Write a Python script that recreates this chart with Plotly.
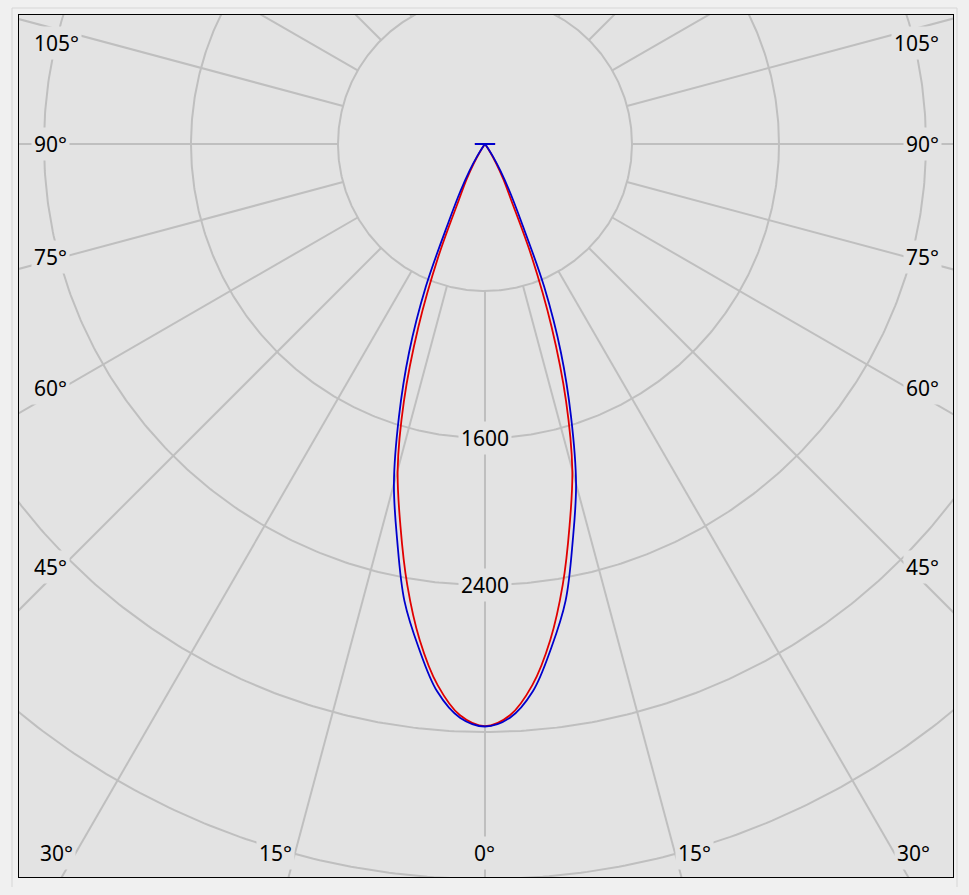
import numpy as np
import plotly.graph_objects as go

# ---- data (luminous intensity, cd) ----
gamma_deg = [0, 2.5, 5, 7.5, 10, 12.5, 15, 17.5, 20, 22.5, 25, 27.5, 30, 32.5, 35, 40, 45, 90, 95]
intensity_c0_c180 = [3168, 3112, 2956, 2722, 2436, 2127, 1836, 1467, 1060, 663, 339, 216, 120, 50, 12, 2, 0, 55, 0]
intensity_c90_c270 = [3170, 3125, 2990, 2765, 2525, 2208, 1915, 1558, 1209, 843, 470, 290, 170, 80, 25, 5, 0, 55, 0]

ring_values = [800, 1600, 2400, 3200, 4000]
ring_labels = ["1600", "2400"]
spoke_angles = list(range(0, 181, 15))
side_label_angles = [45, 60, 75, 90, 105]
bottom_label_angles = [-30, -15, 0, 15, 30]

# ---- geometry ----
CD_PER_PX = 800 / 147.0
X_LO, X_HI = -2536, 2547
Y_LO, Y_HI = -3989, 702
PLOT_BG = "#e3e3e3"
GRID = "#bfbfbf"


def curve_xy(g, vals):
    g = np.radians(np.asarray(g, dtype=float))
    v = np.asarray(vals, dtype=float)
    # left half (C180 / C270) from large gamma down to 0, then right half (C0 / C90)
    xl = -v[::-1] * np.sin(g[::-1])
    yl = -v[::-1] * np.cos(g[::-1])
    xr = v[1:] * np.sin(g[1:])
    yr = -v[1:] * np.cos(g[1:])
    return np.concatenate([xl, xr]), np.concatenate([yl, yr])


# grid rings and spokes
gx, gy = [], []
t = np.linspace(0, 2 * np.pi, 721)
for R in ring_values:
    gx += list(R * np.cos(t)) + [None]
    gy += list(R * np.sin(t)) + [None]
for a in spoke_angles:
    ar = np.radians(a)
    for s in ([1] if a in (0, 180) else [1, -1]):
        gx += [s * 800 * np.sin(ar), s * 8000 * np.sin(ar), None]
        gy += [-800 * np.cos(ar), -8000 * np.cos(ar), None]

fig = go.Figure()
fig.add_trace(go.Scatter(x=gx, y=gy, mode="lines", line=dict(color=GRID, width=2),
                         hoverinfo="skip", showlegend=False))

xr_, yr_ = curve_xy(gamma_deg, intensity_c0_c180)
fig.add_trace(go.Scatter(x=xr_, y=yr_, mode="lines",
                         line=dict(color="rgb(225,0,0)", width=1.8, shape="spline", smoothing=1.0),
                         name="C0-C180", showlegend=False))
xb_, yb_ = curve_xy(gamma_deg, intensity_c90_c270)
fig.add_trace(go.Scatter(x=xb_, y=yb_, mode="lines",
                         line=dict(color="rgb(0,0,205)", width=1.8, shape="spline", smoothing=1.0),
                         name="C90-C270", showlegend=False))

font = dict(family="Noto Sans", size=21, color="black")
ann = []
for lab in ring_labels:
    ann.append(dict(x=0, y=-float(lab), text=lab, showarrow=False, font=font,
                    bgcolor=PLOT_BG, borderpad=2, xanchor="center", yanchor="middle"))

d = 423 * CD_PER_PX
for a in side_label_angles:
    y = -d / np.tan(np.radians(a)) if a != 90 else 0.0
    y = min(y, Y_HI - 28 * CD_PER_PX)
    ann.append(dict(x=X_LO + 12 * CD_PER_PX, y=y, text=f"{a}°", showarrow=False, font=font,
                    bgcolor=PLOT_BG, borderpad=2, xanchor="left", yanchor="middle"))
    ann.append(dict(x=X_HI - 11 * CD_PER_PX, y=y, text=f"{a}°", showarrow=False, font=font,
                    bgcolor=PLOT_BG, borderpad=2, xanchor="right", yanchor="middle"))

yb = Y_LO + 24 * CD_PER_PX
for a in bottom_label_angles:
    x = -yb * np.tan(np.radians(a))
    anchor = "center" if a == 0 else ("right" if a < 0 else "left")
    ann.append(dict(x=x, y=yb, text=f"{abs(a)}°", showarrow=False, font=font,
                    bgcolor=PLOT_BG, borderpad=2, xanchor=anchor, yanchor="middle"))

# light outer frame (page decoration)
W_PLOT, H_PLOT = 934.0, 862.0
fx0, fx1 = (12 - 19) / W_PLOT, (957 - 19) / W_PLOT
fy0, fy1 = (877 - 887) / H_PLOT, (877 - 8) / H_PLOT
shapes = [dict(type="path", xref="paper", yref="paper",
               path=f"M {fx0},{fy0} L {fx0},{fy1} L {fx1},{fy1} L {fx1},{fy0}",
               line=dict(color="#d6d6d6", width=1), layer="below")]

fig.update_layout(
    width=969, height=895,
    margin=dict(l=19, r=16, t=15, b=18),
    paper_bgcolor="#f0f0f0",
    plot_bgcolor=PLOT_BG,
    annotations=ann,
    shapes=shapes,
    xaxis=dict(range=[X_LO, X_HI], showgrid=False, zeroline=False, showticklabels=False,
               ticks="", showline=True, mirror=True, linecolor="black", linewidth=1, fixedrange=True),
    yaxis=dict(range=[Y_LO, Y_HI], showgrid=False, zeroline=False, showticklabels=False,
               ticks="", showline=True, mirror=True, linecolor="black", linewidth=1, fixedrange=True),
)

fig.write_html("out.html", config={"displayModeBar": False},
               post_script="document.body.style.margin='0';document.body.style.background='#f0f0f0';")
